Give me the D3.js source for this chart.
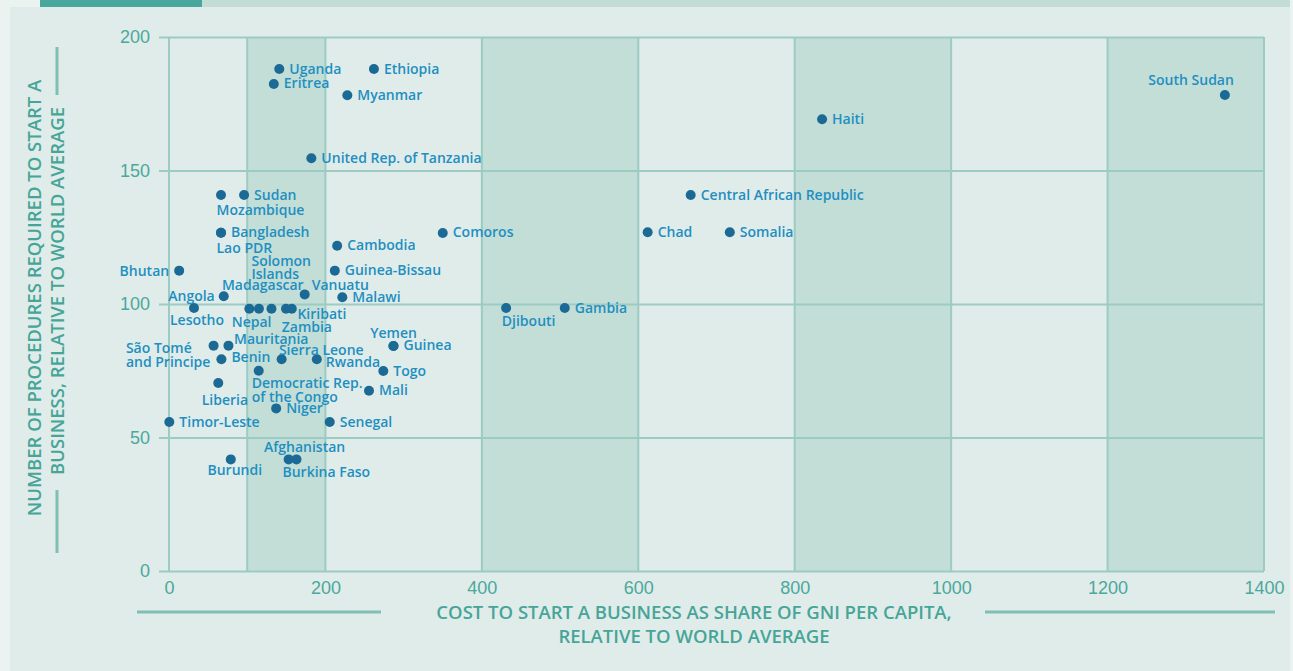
<!DOCTYPE html>
<html>
<head>
<meta charset="utf-8">
<script src="https://cdn.jsdelivr.net/npm/d3@7"></script>
<style>
  body { margin: 0; background: #eaf3f0; }
  svg { display: block; font-family: "Open Sans", sans-serif; }
  .tick text { fill: #4ba89d; font-size: 18px; }
  .tick line { stroke: #9bcbc2; stroke-width: 2; }
  .label { fill: #1e8fc1; font-size: 14px; font-weight: 600; }
  .axisTitle { fill: #46a598; font-size: 18.5px; font-weight: 600; }
</style>
</head>
<body>
<script>
// chart data
var countries = ["Uganda", "Ethiopia", "Eritrea", "Myanmar", "United Rep. of Tanzania", "South Sudan", "Haiti",
  "Central African Republic", "Comoros", "Chad", "Somalia", "Mozambique", "Sudan", "Bangladesh", "Lao PDR",
  "Bhutan", "Cambodia", "Guinea-Bissau", "Angola", "Vanuatu", "Malawi", "Lesotho", "Nepal", "Madagascar",
  "Solomon Islands", "Zambia", "Kiribati", "São Tomé and Principe", "Mauritania", "Benin", "Sierra Leone",
  "Rwanda", "Democratic Rep. of the Congo", "Liberia", "Niger", "Timor-Leste", "Senegal", "Burundi",
  "Afghanistan", "Burkina Faso", "Yemen", "Guinea", "Togo", "Mali", "Djibouti", "Gambia"];
var costShare = [141, 262, 134, 228, 182, 1350, 835,
  667, 350, 612, 717, 66.5, 96, 66.5, 66.5,
  13, 215, 212, 70, 173.5, 221.6, 32, 102.7, 115,
  131, 149.6, 157, 57, 76, 67, 144,
  189, 114.7, 63, 137, 0.4, 205.5, 79,
  153, 163, 287, 287, 274, 255.7, 431, 506];
var procedures = [188, 188, 182.4, 178.2, 154.6, 178.3, 169.2,
  140.8, 126.6, 126.9, 126.9, 140.8, 140.8, 126.7, 126.7,
  112.5, 121.8, 112.5, 102.9, 103.6, 102.5, 98.5, 98.2, 98.2,
  98.2, 98.2, 98.2, 84.4, 84.4, 79.3, 79.3,
  79.3, 75, 70.4, 60.9, 55.8, 55.8, 41.8,
  41.8, 41.8, 84.3, 84.3, 74.9, 67.5, 98.5, 98.5];
var xTicks = [0, 200, 400, 600, 800, 1000, 1200, 1400];
var yTicks = [0, 50, 100, 150, 200];
var bands = [[100, 200], [400, 600], [800, 1000], [1200, 1400]];

// label placement around each dot (default: right of dot)
var labelLayout = {
  "South Sudan": {anchor: "end", dx: 9, dy: [-9.5]},
  "Mozambique": {dx: -4.5, dy: [19.5]},
  "Lao PDR": {dx: -4.5, dy: [20]},
  "Bhutan": {anchor: "end", dx: -10, dy: [5]},
  "Solomon Islands": {dx: -20, dy: [-42.5, -29.4], lines: ["Solomon", "Islands"]},
  "Madagascar": {dx: -37, dy: [-18.7]},
  "Vanuatu": {dx: 7, dy: [-4]},
  "Angola": {anchor: "end", dx: -9, dy: [4.4]},
  "Lesotho": {dx: -24, dy: [17]},
  "Nepal": {dx: -17.6, dy: [18.5]},
  "Kiribati": {dx: 5.6, dy: [10.3]},
  "Zambia": {dx: -4.3, dy: [23]},
  "Mauritania": {dx: 5.6, dy: [-1.7]},
  "São Tomé and Principe": {dx: -87.7, dy: [7.3, 21], lines: ["São Tomé", "and Principe"]},
  "Sierra Leone": {dx: -2.7, dy: [-4.3]},
  "Benin": {dx: 10, dy: [3]},
  "Rwanda": {dx: 9, dy: [8]},
  "Democratic Rep. of the Congo": {dx: -7, dy: [17.3, 31], lines: ["Democratic Rep.", "of the Congo"]},
  "Liberia": {dx: -16.6, dy: [22]},
  "Burundi": {dx: -23.3, dy: [15.7]},
  "Afghanistan": {dx: -24.7, dy: [-7.6]},
  "Burkina Faso": {dx: -14, dy: [17.7]},
  "Yemen": {dx: -23.3, dy: [-8]},
  "Djibouti": {dx: -4.3, dy: [18.4]}
};

var w = 1293, h = 671;

var svg = d3.select("body").append("svg")
  .attr("width", w)
  .attr("height", h);

// panel + top strip
svg.append("rect").attr("x", 10).attr("y", 7).attr("width", 1280).attr("height", h - 7).style("fill", "#e0ece9");
svg.append("rect").attr("x", 40).attr("y", 0).attr("width", 162).attr("height", 7).style("fill", "#49a89e");
svg.append("rect").attr("x", 202).attr("y", 0).attr("width", 1088).attr("height", 7).style("fill", "#c2ddd6");

var x = d3.scaleLinear().domain([0, 1400]).range([169, 1264]);
var y = d3.scaleLinear().domain([0, 200]).range([571, 37]);

// shaded columns
svg.selectAll(".band")
  .data(bands)
  .enter()
  .append("rect")
  .attr("class", "band")
  .attr("x", function(d){ return x(d[0]); })
  .attr("y", y(200))
  .attr("width", function(d){ return x(d[1]) - x(d[0]); })
  .attr("height", y(0) - y(200))
  .style("fill", "#c3ded7");

// vertical grid lines at band edges
var vLines = [0].concat(d3.merge(bands));
svg.selectAll(".vline")
  .data(vLines)
  .enter()
  .append("line")
  .attr("class", "vline")
  .attr("x1", function(d){ return x(d); })
  .attr("x2", function(d){ return x(d); })
  .attr("y1", y(200))
  .attr("y2", y(0))
  .style("stroke", "#9bcbc2")
  .style("stroke-width", 2);

// y axis: ticks run across as gridlines
var yAxis = d3.axisLeft(y)
  .tickValues(yTicks)
  .tickSize(x(1400) - 159)
  .tickPadding(9);
svg.append("g")
  .attr("transform", "translate(" + x(1400) + ",0)")
  .call(yAxis)
  .call(function(g){ g.select(".domain").remove(); });

// x axis labels
var xAxis = d3.axisBottom(x)
  .tickValues(xTicks)
  .tickFormat(d3.format("d"))
  .tickSize(0)
  .tickPadding(10);
svg.append("g")
  .attr("transform", "translate(0," + y(0) + ")")
  .call(xAxis)
  .call(function(g){ g.select(".domain").remove(); });

// axis titles
svg.append("text").attr("class", "axisTitle")
  .attr("x", 694).attr("y", 619).attr("text-anchor", "middle")
  .text("COST TO START A BUSINESS AS SHARE OF GNI PER CAPITA,");
svg.append("text").attr("class", "axisTitle")
  .attr("x", 694).attr("y", 643).attr("text-anchor", "middle")
  .text("RELATIVE TO WORLD AVERAGE");
[[137, 381], [985, 1275]].forEach(function(s){
  svg.append("line").attr("x1", s[0]).attr("x2", s[1]).attr("y1", 612).attr("y2", 612)
    .style("stroke", "#7fbfb4").style("stroke-width", 3);
});

var yTitle = svg.append("g").attr("transform", "translate(41,298) rotate(-90)");
yTitle.append("text").attr("class", "axisTitle")
  .attr("x", 0).attr("y", 0).attr("text-anchor", "middle")
  .text("NUMBER OF PROCEDURES REQUIRED TO START A");
yTitle.append("text").attr("class", "axisTitle")
  .attr("x", 7).attr("y", 23).attr("text-anchor", "middle")
  .text("BUSINESS, RELATIVE TO WORLD AVERAGE");
[[47, 95], [490, 553]].forEach(function(s){
  svg.append("line").attr("x1", 57).attr("x2", 57).attr("y1", s[0]).attr("y2", s[1])
    .style("stroke", "#7fbfb4").style("stroke-width", 3);
});

// points
var points = countries.map(function(c, i){
  return {name: c, cost: costShare[i], proc: procedures[i]};
});

svg.selectAll(".dot")
  .data(points)
  .enter()
  .append("circle")
  .attr("class", "dot")
  .attr("cx", function(d){ return x(d.cost); })
  .attr("cy", function(d){ return y(d.proc); })
  .attr("r", 5)
  .style("fill", "#1b6a96");

// labels
var labels = svg.selectAll(".label")
  .data(points)
  .enter()
  .append("text")
  .attr("class", "label")
  .attr("text-anchor", function(d){
    var l = labelLayout[d.name];
    return l && l.anchor ? l.anchor : "start";
  });

labels.each(function(d){
  var l = labelLayout[d.name] || {dx: 10, dy: [4.5]};
  var lines = l.lines || [d.name];
  var t = d3.select(this);
  lines.forEach(function(line, j){
    t.append("tspan")
      .attr("x", x(d.cost) + l.dx)
      .attr("y", y(d.proc) + l.dy[j])
      .text(line);
  });
});
</script>
</body>
</html>
